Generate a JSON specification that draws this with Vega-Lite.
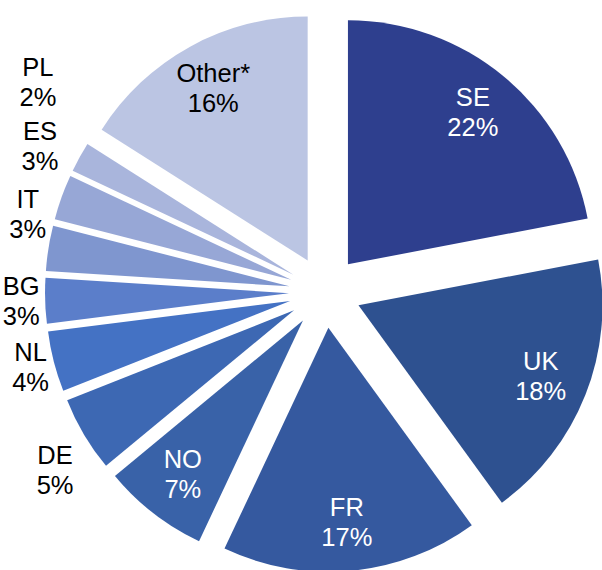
{
  "$schema": "https://vega.github.io/schema/vega-lite/v6.json",
  "width": 554,
  "height": 556,
  "autosize": "none",
  "padding": {"left": 48, "top": 14, "right": 0, "bottom": 0},
  "background": "white",
  "config": {"view": {"stroke": null}, "text": {"font": "Liberation Sans"}},
  "data": {"values": [
    {"i": 1, "country": "SE", "value": 22, "label": "SE\n22%"},
    {"i": 2, "country": "UK", "value": 18, "label": "UK\n18%"},
    {"i": 3, "country": "FR", "value": 17, "label": "FR\n17%"},
    {"i": 4, "country": "NO", "value": 7, "label": "NO\n7%"},
    {"i": 5, "country": "DE", "value": 5, "label": "DE\n5%"},
    {"i": 6, "country": "NL", "value": 4, "label": "NL\n4%"},
    {"i": 7, "country": "BG", "value": 3, "label": "BG\n3%"},
    {"i": 8, "country": "IT", "value": 3, "label": "IT\n3%"},
    {"i": 9, "country": "ES", "value": 3, "label": "ES\n3%"},
    {"i": 10, "country": "PL", "value": 2, "label": "PL\n2%"},
    {"i": 11, "country": "Other*", "value": 16, "label": "Other*\n16%"}
  ]},
  "encoding": {
    "theta": {"field": "value", "type": "quantitative", "stack": true},
    "order": {"field": "i", "type": "quantitative"}
  },
  "layer": [
    {
      "mark": {
        "type": "arc",
        "outerRadius": 244,
        "xOffset": {"expr": "36*sin(scale('theta', (datum.value_start + datum.value_end)/2))"},
        "yOffset": {"expr": "-36*cos(scale('theta', (datum.value_start + datum.value_end)/2))"}
      },
      "encoding": {
        "color": {
          "field": "country",
          "type": "nominal",
          "legend": null,
          "scale": {
            "domain": ["SE", "UK", "FR", "NO", "DE", "NL", "BG", "IT", "ES", "PL", "Other*"],
            "range": ["#2E3F8E", "#2E5190", "#35599F", "#3962A8", "#3D68B3", "#4472C4", "#5B7ECA", "#7F96CF", "#97A7D6", "#A9B5DC", "#BBC5E3"]
          }
        }
      }
    },
    {
      "mark": {"type": "text", "radius": 232, "fontSize": 25.5, "lineBreak": "\n", "lineHeight": 30, "baseline": "middle", "align": "center", "dy": -15},
      "encoding": {
        "text": {"condition": {"test": "indexof(['SE','UK','FR','NO','Other*'], datum.country) >= 0", "field": "label"}, "value": ""},
        "color": {"condition": {"test": "datum.country === 'Other*'", "value": "#000000"}, "value": "#FFFFFF"}
      }
    },
    {
      "mark": {"type": "text", "radius": 304, "fontSize": 25.5, "lineBreak": "\n", "lineHeight": 30, "baseline": "middle", "align": "center", "dy": -15, "color": "#000000"},
      "encoding": {
        "text": {"condition": {"test": "datum.country === 'NL' || datum.country === 'BG'", "field": "label"}, "value": ""}
      }
    },
    {
      "mark": {"type": "text", "radius": 324, "thetaOffset": -0.052, "fontSize": 25.5, "lineBreak": "\n", "lineHeight": 30, "baseline": "middle", "align": "center", "dy": -15, "color": "#000000"},
      "encoding": {
        "text": {"condition": {"test": "datum.country === 'DE'", "field": "label"}, "value": ""}
      }
    },
    {
      "mark": {"type": "text", "radius": 307, "thetaOffset": 0.096, "fontSize": 25.5, "lineBreak": "\n", "lineHeight": 30, "baseline": "middle", "align": "center", "dy": -15, "color": "#000000"},
      "encoding": {
        "text": {"condition": {"test": "datum.country === 'IT'", "field": "label"}, "value": ""}
      }
    },
    {
      "mark": {"type": "text", "radius": 320, "thetaOffset": 0.126, "fontSize": 25.5, "lineBreak": "\n", "lineHeight": 30, "baseline": "middle", "align": "center", "dy": -15, "color": "#000000"},
      "encoding": {
        "text": {"condition": {"test": "datum.country === 'ES'", "field": "label"}, "value": ""}
      }
    },
    {
      "mark": {"type": "text", "radius": 355, "thetaOffset": 0.126, "fontSize": 25.5, "lineBreak": "\n", "lineHeight": 30, "baseline": "middle", "align": "center", "dy": -15, "color": "#000000"},
      "encoding": {
        "text": {"condition": {"test": "datum.country === 'PL'", "field": "label"}, "value": ""}
      }
    }
  ]
}
